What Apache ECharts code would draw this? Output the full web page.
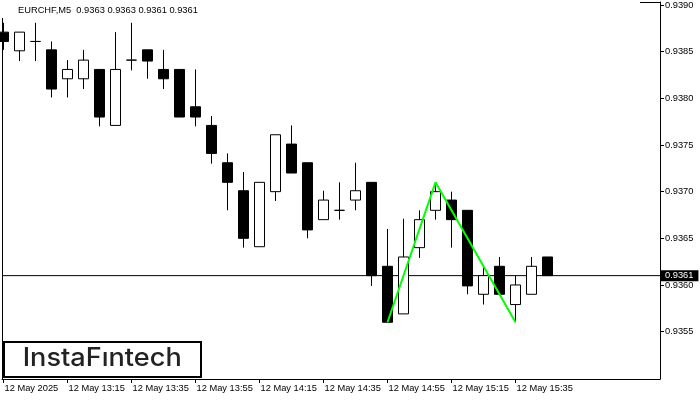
<!DOCTYPE html>
<html><head><meta charset="utf-8">
<script src="https://cdn.jsdelivr.net/npm/echarts@6/dist/echarts.min.js"></script>
<style>html,body{margin:0;padding:0;background:#fff}#c{width:700px;height:400px}</style>
</head><body><div id="c"></div>
<script>
// ---- data ----
const times = ['12:55','13:00','13:05','13:10','13:15','13:20','13:25','13:30','13:35','13:40','13:45','13:50',
  '13:55','14:00','14:05','14:10','14:15','14:20','14:25','14:30','14:35','14:40','14:45','14:50',
  '14:55','15:00','15:05','15:10','15:15','15:20','15:25','15:30','15:35','15:40','15:45'];
const opens  = [0.93871,0.93851,0.93861,0.93852,0.93821,0.93821,0.93831,0.93771,0.93841,0.93852,0.93831,0.93831,
  0.93791,0.93771,0.93731,0.93701,0.93641,0.93700,0.93751,0.93731,0.93670,0.93680,0.93691,0.93710,
  0.93620,0.93569,0.93640,0.93680,0.93691,0.93680,0.93590,0.93620,0.93579,0.93590,0.93630];
const closes = [0.93861,0.93871,0.93861,0.93810,0.93831,0.93841,0.93780,0.93831,0.93841,0.93840,0.93821,0.93780,
  0.93780,0.93741,0.93710,0.93650,0.93710,0.93761,0.93720,0.93659,0.93691,0.93680,0.93701,0.93610,
  0.93560,0.93630,0.93670,0.93700,0.93670,0.93599,0.93610,0.93590,0.93600,0.93620,0.93610];
const lows   = [0.93852,0.93840,0.93840,0.93801,0.93801,0.93810,0.93770,0.93771,0.93830,0.93821,0.93810,0.93780,
  0.93770,0.93730,0.93680,0.93640,0.93641,0.93690,0.93720,0.93650,0.93670,0.93670,0.93680,0.93599,
  0.93560,0.93569,0.93629,0.93670,0.93640,0.93590,0.93579,0.93590,0.93560,0.93590,0.93610];
const highs  = [0.93881,0.93871,0.93881,0.93861,0.93841,0.93852,0.93831,0.93871,0.93881,0.93852,0.93852,0.93831,
  0.93831,0.93781,0.93741,0.93721,0.93710,0.93761,0.93771,0.93731,0.93701,0.93710,0.93731,0.93710,
  0.93660,0.93671,0.93680,0.93710,0.93700,0.93680,0.93620,0.93630,0.93610,0.93630,0.93630];
const xTickIdx = [0,4,8,12,16,20,24,28,32];
const xTickLabels = ['12 May 2025','12 May 13:15','12 May 13:35','12 May 13:55','12 May 14:15',
  '12 May 14:35','12 May 14:55','12 May 15:15','12 May 15:35'];
const yTicks = [0.9355,0.9360,0.9365,0.9370,0.9375,0.9380,0.9385,0.9390];
const patternIdx = [24,27,32];
const patternVals = [0.93560,0.93710,0.93560];
const lastPrice = 0.9361;
const header = 'EURCHF,M5  0.9363 0.9363 0.9361 0.9361';

// ---- chart ----
const FONT = '"Liberation Sans", Arial, sans-serif';
const FS = 9.3;
const X_MIN = -0.09375, X_MAX = 41.03125;
const candleData = times.map((t,i)=>[i, opens[i], closes[i], lows[i], highs[i]]);
const patternData = patternIdx.map((x,i)=>[x, patternVals[i]]);
const priceLineData = [[X_MIN, lastPrice],[X_MAX, lastPrice]];

const mc = document.createElement('canvas').getContext('2d');
mc.font = '500 25px Inter';
const logoW = mc.measureText('InstaFıntech').width || 146;
const sx = 159/logoW;

const chart = echarts.init(document.getElementById('c'), null, {renderer:'canvas'});
chart.setOption({
  animation:false,
  backgroundColor:'#fff',
  grid:{left:2, right:40, top:2, bottom:21, containLabel:false, outerBoundsMode:'none'},
  xAxis:{
    type:'value', min:X_MIN, max:X_MAX, position:'bottom',
    axisLine:{show:true, onZero:false, lineStyle:{color:'#000', width:1}},
    axisTick:{show:true, length:4, customValues:xTickIdx, lineStyle:{color:'#000'}},
    axisLabel:{customValues:xTickIdx, formatter:(v)=>xTickLabels[xTickIdx.indexOf(Math.round(v))]||'',
      align:'left', margin:5, padding:[0,0,0,1], color:'#000', fontFamily:FONT, fontSize:FS},
    splitLine:{show:false}
  },
  yAxis:{
    type:'value', position:'right', min:0.934992, max:0.939033, scale:true,
    axisLine:{show:true, onZero:false, lineStyle:{color:'#000', width:1}},
    axisTick:{show:true, length:4, customValues:yTicks, lineStyle:{color:'#000'}},
    axisLabel:{customValues:yTicks, formatter:(v)=>v.toFixed(4), margin:5, color:'#000', fontFamily:FONT, fontSize:FS},
    splitLine:{show:false}
  },
  series:[
    {
      type:'line', data:priceLineData, symbol:'none', silent:true, z:1, clip:false,
      lineStyle:{color:'#000', width:1},
      endLabel:{show:true, formatter:lastPrice.toFixed(4), color:'#fff', backgroundColor:'#000',
        padding:[1,5,0,4], distance:1, fontFamily:FONT, fontSize:FS, lineHeight:10}
    },
    {
      type:'candlestick', data:candleData, encode:{x:0, y:[1,2,3,4]},
      barWidth:10, clip:true, silent:true, z:2,
      itemStyle:{color:'#fff', color0:'#000', borderColor:'#000', borderColor0:'#000', borderColorDoji:'#000', borderWidth:1}
    },
    {
      type:'line', data:patternData, symbol:'none', silent:true, z:5,
      lineStyle:{color:'#00ff00', width:2}
    }
  ],
  graphic:[
    {type:'line', shape:{x1:2.5,y1:18,x2:2.5,y2:379}, style:{stroke:'#000', lineWidth:1}, silent:true},
    {type:'line', shape:{x1:640,y1:2.5,x2:660,y2:2.5}, style:{stroke:'#000', lineWidth:1}, silent:true},
    {type:'text', x:18, y:10.7, style:{text:header, fill:'#000', font:FS+'px '+FONT, verticalAlign:'middle', align:'left'}, silent:true},
    {type:'rect', shape:{x:4, y:342, width:197, height:35}, style:{fill:'#fff', stroke:'#000', lineWidth:2}, z:10, silent:true},
    {type:'text', x:22.7, y:358.8, scaleX:sx, z:11, silent:true,
      style:{text:'InstaFıntech', fill:'#222', font:'500 25px Inter', verticalAlign:'middle', align:'left'}}
  ]
});
</script></body></html>
